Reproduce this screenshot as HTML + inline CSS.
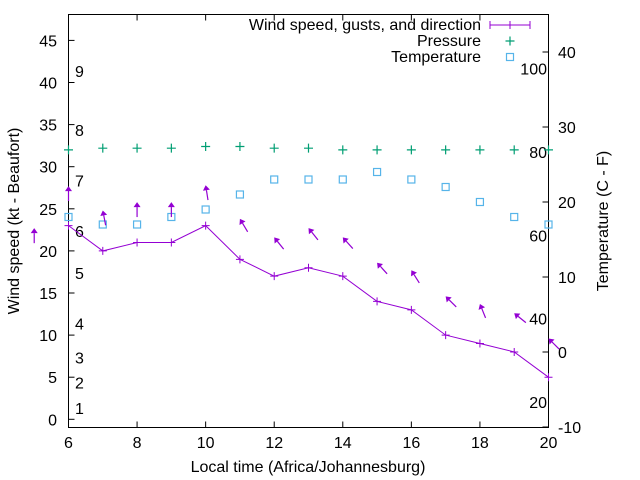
<!DOCTYPE html>
<html><head><meta charset="utf-8"><style>
body{margin:0;background:#fff}
svg{display:block;font-family:"Liberation Sans",sans-serif;font-size:16px}
</style></head><body>
<svg id="c" width="640" height="480" viewBox="0 0 640 480">
<g id="axes"></g>
<g id="marks"></g>
<g id="legend"></g>
</svg>
<script>
const hours=[6,7,8,9,10,11,12,13,14,15,16,17,18,19,20];
const windKt=[23,20,21,21,23,19,17,18,17,14,13,10,9,8,5];
const pressure=[32.0,32.2,32.2,32.2,32.4,32.4,32.2,32.2,32.0,32.0,32.0,32.0,32.0,32.0,32.0];
const tempC=[18,17,17,18,19,21,23,23,23,24,23,22,20,18,17];
const gustHours=[5,6,7,8,9,10,11,12,13,14,15,16,17,18,19,20];
const gustKt=[22.7,27.7,24.8,25.8,25.8,27.8,23.8,21.6,22.7,21.6,18.6,17.7,14.6,13.7,12.6,9.6];
const gustDir=[0,0,11,0,0,9,31,39,39,42,42,32,45,22,51,45];
const xTicks=[6,8,10,12,14,16,18,20];
const yTicks=[0,5,10,15,20,25,30,35,40,45];
const y2Ticks=[-10,0,10,20,30,40];
const fTicks=[20,40,60,80,100];
const bfNums=[1,2,3,4,5,6,7,8,9];
const bfKt=[1,4,7,11,17,22,28,34,41];

const L=68.5,R=548.5,T=14.5,B=427.5;
const X=h=>L+(h-6)*(R-L)/14;
const Y=k=>419.3-k*8.42;
const Y2=c=>352-c*7.5;
const NS='http://www.w3.org/2000/svg';
function mk(p,t,a,txt){const e=document.createElementNS(NS,t);for(const k in a)e.setAttribute(k,a[k]);if(txt!==undefined)e.textContent=txt;p.appendChild(e);return e;}
const ax=document.getElementById('axes'),mg=document.getElementById('marks'),lg=document.getElementById('legend');
const fr=mk(ax,'rect',{x:L,y:T,width:R-L,height:B-T,fill:'none',stroke:'#000','stroke-width':1});


xTicks.forEach(h=>{
  mk(ax,'line',{x1:X(h),y1:B,x2:X(h),y2:B-6,stroke:'#000'});
  mk(ax,'line',{x1:X(h),y1:T,x2:X(h),y2:T+6,stroke:'#000'});
  const t=mk(ax,'text',{x:X(h),y:448,'text-anchor':'middle',fill:'#000'},h);
  
  
});
yTicks.forEach(v=>{
  mk(ax,'line',{x1:L,y1:Y(v),x2:L+6,y2:Y(v),stroke:'#000'});
  const t=mk(ax,'text',{x:57,y:Y(v)+6,'text-anchor':'end',fill:'#000'},v);
  
  
});
y2Ticks.forEach(v=>{
  mk(ax,'line',{x1:R,y1:Y2(v),x2:R-6,y2:Y2(v),stroke:'#000'});
  const t=mk(ax,'text',{x:558,y:Y2(v)+6,fill:'#000'},v);
  
  
});
fTicks.forEach(f=>{
  const t=mk(ax,'text',{x:547,y:Y2((f-32)*5/9)+6,'text-anchor':'end',fill:'#000'},f);
  
  
});
bfNums.forEach((n,i)=>{
  const t=mk(ax,'text',{x:75,y:Y(bfKt[i])+3,fill:'#000'},n);
  
  
});
let t=mk(ax,'text',{x:308,y:472,'text-anchor':'middle',fill:'#000'},'Local time (Africa/Johannesburg)');


t=mk(ax,'text',{x:0,y:0,'text-anchor':'middle',fill:'#000',transform:'translate(19,221) rotate(-90)'},'Wind speed (kt - Beaufort)');


t=mk(ax,'text',{x:0,y:0,'text-anchor':'middle',fill:'#000',transform:'translate(608,221) rotate(-90)'},'Temperature (C - F)');



const PUR='#9400d3',GRN='#009e73',BLU='#56b4e9';
const pl=mk(mg,'polyline',{points:hours.map((h,i)=>X(h)+','+Y(windKt[i])).join(' '),fill:'none',stroke:PUR,'stroke-width':1});


hours.forEach((h,i)=>{
  const x=X(h),y=Y(windKt[i]);
  const p=mk(mg,'path',{d:`M${x-4},${y}h8M${x},${y-4}v8`,stroke:PUR,'stroke-width':1});
  
  
  const px=X(h),py=Y(pressure[i]);
  const q=mk(mg,'path',{d:`M${px-4.5},${py}h9M${px},${py-4.5}v9`,stroke:GRN,'stroke-width':1.2});
  
  
  const ty=Y2(tempC[i]);
  const s=mk(mg,'rect',{x:x-3.5,y:ty-3.5,width:7,height:7,fill:'none',stroke:BLU,'stroke-width':1.2});
  
  
});
gustHours.forEach((h,i)=>{
  const a=gustDir[i]*Math.PI/180,len=15;
  const tx=X(h),ty=Y(gustKt[i]);
  const sx=tx+len*Math.sin(a),sy=ty+len*Math.cos(a);
  const ux=(tx-sx)/len,uy=(ty-sy)/len;
  const bx=tx-ux*5,by=ty-uy*5;
  const g=mk(mg,'g',{});
  
  
  mk(g,'line',{x1:sx,y1:sy,x2:bx,y2:by,stroke:PUR,'stroke-width':1.2});
  mk(g,'polygon',{points:`${tx},${ty} ${bx-uy*3.5},${by+ux*3.5} ${bx+uy*3.5},${by-ux*3.5}`,fill:PUR});
});
const lgItems=[['Wind speed, gusts, and direction',25],['Pressure',41],['Temperature',57]];
lgItems.forEach(([s,y],i)=>{
  const e=mk(lg,'text',{x:481,y:y+5,'text-anchor':'end',fill:'#000'},s);
  
  
});
let e=mk(lg,'path',{d:'M490,25h40M490,21v8M530,21v8M506,25h8M510,21v8',stroke:PUR,fill:'none'});


e=mk(lg,'path',{d:'M505.5,41h9M510,36.5v9',stroke:GRN,'stroke-width':1.2});


e=mk(lg,'rect',{x:506.5,y:53.5,width:7,height:7,fill:'none',stroke:BLU,'stroke-width':1.2});


</script>
</body></html>
